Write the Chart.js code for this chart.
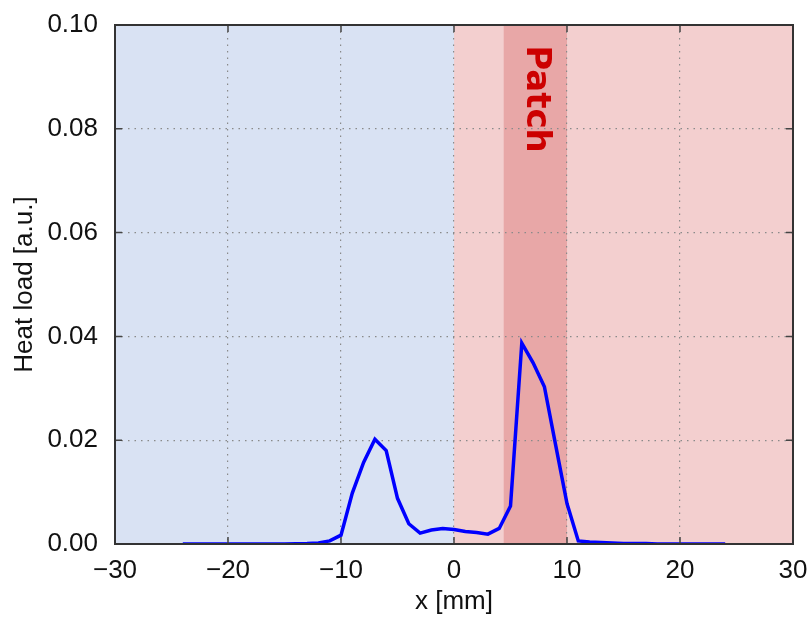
<!DOCTYPE html>
<html>
<head>
<meta charset="utf-8">
<script src="https://cdn.jsdelivr.net/npm/chart.js@4.4.1/dist/chart.umd.min.js"></script>
<style>
  body { margin: 0; background: #fff; }
  canvas { display: block; }
</style>
</head>
<body>
<canvas id="chart" width="812" height="617"></canvas>
<script>
// positions along the target [mm]
const xPositions = [-24, -23, -22, -21, -20, -19, -18, -17, -16, -15, -14, -13, -12,
    -11, -10, -9, -8, -7, -6, -5, -4, -3, -2, -1, 0, 1, 2, 3, 4, 5, 6, 7, 8, 9, 10,
    11, 12, 13, 14, 15, 16, 17, 18, 19, 20, 21, 22, 23, 24];
// heat load [a.u.]
const heatLoad = [0, 0, 0, 0, 0, 0, 0, 0, 0, 0, 0.00005, 0.0001, 0.0002,
    0.0006, 0.0017, 0.0098, 0.0157, 0.0202, 0.0180, 0.0088, 0.0039, 0.0021, 0.0027, 0.0030,
    0.0028, 0.0024, 0.0022, 0.0019, 0.0030, 0.0073, 0.0387, 0.0349, 0.0303, 0.0190, 0.0078,
    0.0006, 0.0004, 0.0003, 0.0002, 0.0001, 0.0001, 0.0001, 0, 0, 0, 0, 0, 0, 0];

// shaded regions: outside, target side, patch
const regionStart = [-30, 0, 4.4];
const regionEnd = [0, 30, 10];
const patchLabel = 'Patch';

const xTicks = [-30, -20, -10, 0, 10, 20, 30];
const yTicks = [0, 0.02, 0.04, 0.06, 0.08, 0.10];

const regionColors = ['#d9e2f3', '#f3cfcf', '#e8a7a7'];
const tickFont = { family: 'Liberation Sans', size: 26 };
const titleFont = { family: 'Liberation Sans', size: 26 };

const plotDecor = {
    id: 'plotDecor',
    beforeDraw(chart) {
        const { ctx, chartArea, scales } = chart;
        ctx.save();
        regionStart.forEach((start, i) => {
            const x1 = scales.x.getPixelForValue(start);
            const x2 = scales.x.getPixelForValue(regionEnd[i]);
            ctx.fillStyle = regionColors[i];
            ctx.fillRect(x1, chartArea.top, x2 - x1, chartArea.bottom - chartArea.top);
        });
        ctx.restore();
    },
    beforeDatasetsDraw(chart) {
        const { ctx, chartArea, scales } = chart;
        const cx = (scales.x.getPixelForValue(regionStart[2]) + scales.x.getPixelForValue(regionEnd[2])) / 2;
        ctx.save();
        ctx.translate(cx, chartArea.top + 74);
        ctx.rotate(Math.PI / 2);
        ctx.fillStyle = '#cc0000';
        ctx.font = 'bold 34px "DejaVu Sans"';
        ctx.textAlign = 'center';
        ctx.textBaseline = 'middle';
        ctx.fillText(patchLabel, 0, 0);
        ctx.restore();
    },
    afterDraw(chart) {
        const { ctx, chartArea, scales } = chart;
        const { left, right, top, bottom } = chartArea;
        ctx.save();
        // inward tick marks
        ctx.strokeStyle = '#444';
        ctx.lineWidth = 1.5;
        ctx.beginPath();
        xTicks.forEach(v => {
            const px = scales.x.getPixelForValue(v);
            ctx.moveTo(px, bottom); ctx.lineTo(px, bottom - 7);
            ctx.moveTo(px, top); ctx.lineTo(px, top + 7);
        });
        yTicks.forEach(v => {
            const py = scales.y.getPixelForValue(v);
            ctx.moveTo(left, py); ctx.lineTo(left + 7, py);
            ctx.moveTo(right, py); ctx.lineTo(right - 7, py);
        });
        ctx.stroke();
        // frame
        ctx.strokeStyle = '#333';
        ctx.lineWidth = 2;
        ctx.strokeRect(left, top, right - left, bottom - top);
        ctx.restore();
    }
};

const ctx = document.getElementById('chart').getContext('2d');
const chart = new Chart(ctx, {
    type: 'scatter',
    data: {
        datasets: [{
            data: xPositions.map((x, i) => ({ x: x, y: heatLoad[i] })),
            showLine: true,
            borderColor: '#0000ff',
            borderWidth: 3.5,
            pointRadius: 0,
            tension: 0
        }]
    },
    options: {
        responsive: false,
        devicePixelRatio: 1,
        animation: false,
        layout: { padding: { top: 25, right: 19, left: 0, bottom: 0 } },
        plugins: { legend: { display: false }, tooltip: { enabled: false } },
        scales: {
            x: {
                type: 'linear',
                min: -30,
                max: 30,
                afterFit: scale => {
                    scale.height = 73;
                    scale.paddingLeft = 0;
                    scale.paddingRight = 0;
                },
                afterBuildTicks: scale => { scale.ticks = xTicks.map(v => ({ value: v })); },
                grid: { color: '#8a8a8a', lineWidth: 1.2, drawTicks: false },
                border: { display: false, dash: [1.5, 5] },
                ticks: {
                    color: '#111',
                    font: tickFont,
                    padding: 11,
                    maxRotation: 0,
                    callback: v => (v < 0 ? '\u2212' : '') + Math.abs(v)
                },
                title: { display: true, text: 'x [mm]', color: '#111', font: titleFont, padding: 0 }
            },
            y: {
                min: 0,
                max: 0.1,
                afterFit: scale => {
                    scale.width = 115;
                    scale.paddingTop = 0;
                    scale.paddingBottom = 0;
                },
                afterBuildTicks: scale => { scale.ticks = yTicks.map(v => ({ value: v })); },
                grid: { color: '#8a8a8a', lineWidth: 1.2, drawTicks: false },
                border: { display: false, dash: [1.5, 5] },
                ticks: {
                    color: '#111',
                    font: tickFont,
                    padding: 17,
                    callback: v => v.toFixed(2)
                },
                title: { display: true, text: 'Heat load [a.u.]', color: '#111', font: titleFont, padding: { top: 9, bottom: 0 } }
            }
        }
    },
    plugins: [plotDecor]
});
</script>
</body>
</html>
